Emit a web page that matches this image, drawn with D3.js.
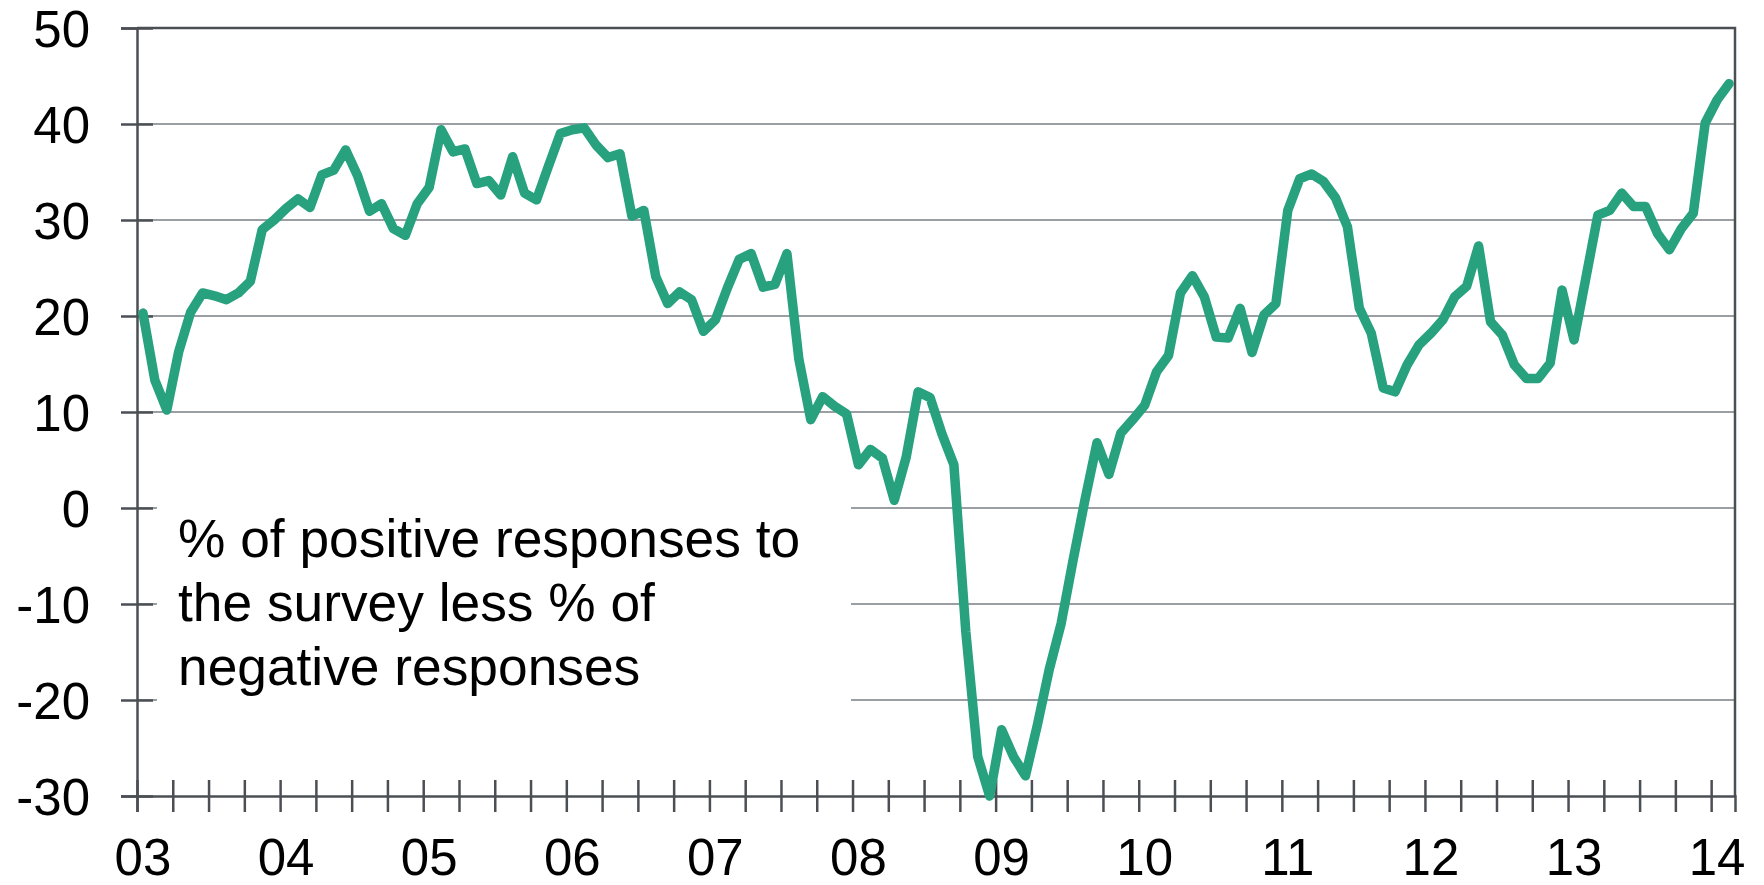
<!DOCTYPE html>
<html>
<head>
<meta charset="utf-8">
<script src="https://cdn.jsdelivr.net/npm/d3@7"></script>
<style>
  html, body { margin: 0; padding: 0; background: #fff; }
  svg { display: block; font-family: "Liberation Sans", Arial, sans-serif; }
</style>
</head>
<body>
<div id="chart"></div>
<script>
// monthly balance, Jan 2003 .. Feb 2014
const balance = [
  20.3, 13.3, 10.2, 16.3, 20.4, 22.4, 22.1, 21.7, 22.4, 23.6, 29.0, 30.0,
  31.2, 32.2, 31.3, 34.7, 35.2, 37.3, 34.6, 30.9, 31.7, 29.1, 28.4, 31.7,
  33.4, 39.4, 37.1, 37.4, 33.8, 34.1, 32.6, 36.6, 32.8, 32.1, 35.6, 39.0,
  39.4, 39.6, 37.8, 36.5, 36.9, 30.4, 31.0, 24.1, 21.3, 22.5, 21.7, 18.4,
  19.6, 22.9, 25.9, 26.5, 23.0, 23.3, 26.5, 15.5, 9.2, 11.6, 10.6, 9.8,
  4.5, 6.1, 5.2, 0.8, 5.3, 12.1, 11.5, 7.7, 4.5, -12.9, -25.9, -30.0,
  -23.1, -25.9, -27.9, -22.6, -16.8, -12.0, -5.4, 0.9, 6.8, 3.5, 7.8, 9.2,
  10.7, 14.2, 15.9, 22.4, 24.2, 22.0, 17.8, 17.7, 20.8, 16.2, 20.1, 21.3,
  31.0, 34.3, 34.8, 34.0, 32.3, 29.3, 20.8, 18.2, 12.5, 12.1, 14.9, 17.0,
  18.2, 19.6, 22.0, 23.1, 27.3, 19.4, 18.0, 14.9, 13.5, 13.5, 15.1, 22.7,
  17.5, 24.0, 30.5, 31.0, 32.8, 31.4, 31.4, 28.6, 26.9, 29.1, 30.7, 40.1,
  42.5, 44.2
];
const yearLabels = ["03", "04", "05", "06", "07", "08", "09", "10", "11", "12", "13", "14"];
const yTicks = [-30, -20, -10, 0, 10, 20, 30, 40, 50];
const noteLines = ["% of positive responses to", "the survey less % of", "negative responses"];

const width = 1764, height = 885;
const axisColor = "#4b4f54", gridColor = "#9b9ea2", lineColor = "#27a17e";

const svg = d3.select("#chart").append("svg")
    .attr("width", width)
    .attr("height", height);

const x = d3.scaleLinear()
    .domain([-0.5, balance.length - 0.5])
    .range([137, 1735]);
const y = d3.scaleLinear()
    .domain([-30, 50])
    .range([796, 28]);

// gridlines
svg.append("g")
    .selectAll("line")
    .data(yTicks.filter(v => v > -30 && v < 50))
    .join("line")
    .attr("x1", x.range()[0]).attr("x2", x.range()[1])
    .attr("y1", d => y(d)).attr("y2", d => y(d))
    .attr("stroke", gridColor)
    .attr("stroke-width", 2);

// white box behind the note hides part of the lower gridlines
svg.append("rect")
    .attr("x", 157).attr("y", 460)
    .attr("width", 694).attr("height", 262)
    .attr("fill", "#fff");

// frame: top and right
svg.append("path")
    .attr("d", `M${x.range()[0]},${y(50)}H${x.range()[1]}V${y(-30)}`)
    .attr("fill", "none")
    .attr("stroke", axisColor)
    .attr("stroke-width", 2.5);

// y axis
const yAxis = svg.append("g")
    .attr("transform", `translate(${x.range()[0]},0)`)
    .call(d3.axisLeft(y).tickValues(yTicks).tickSize(16).tickFormat(d => String(d)));
yAxis.select(".domain").attr("stroke", axisColor).attr("stroke-width", 2.5);
yAxis.selectAll(".tick line")
    .attr("x1", 16).attr("x2", -16)
    .attr("stroke", axisColor).attr("stroke-width", 2.5);
yAxis.selectAll(".tick text")
    .attr("x", -47)
    .attr("dy", "0.36em")
    .attr("fill", "#000")
    .style("font-size", "51px")
    .style("font-family", "'Liberation Sans', Arial, sans-serif");

// x axis, quarterly ticks between months
const xAxis = svg.append("g")
    .attr("transform", `translate(0,${y(-30)})`)
    .call(d3.axisBottom(x)
        .tickValues(d3.range(-0.5, balance.length - 1, 3))
        .tickSize(16)
        .tickFormat(""));
xAxis.select(".domain").attr("stroke", axisColor).attr("stroke-width", 2.5);
xAxis.selectAll(".tick line")
    .attr("y1", -16).attr("y2", 16)
    .attr("stroke", axisColor).attr("stroke-width", 2.5);

svg.append("g")
    .selectAll("text")
    .data(yearLabels)
    .join("text")
    .attr("x", (d, i) => x(i * 12))
    .attr("y", 875)
    .attr("text-anchor", "middle")
    .attr("fill", "#000")
    .style("font-size", "51px")
    .text(d => d);

// note
svg.append("text")
    .attr("x", 178)
    .attr("y", 557)
    .attr("fill", "#000")
    .style("font-size", "53.3px")
    .selectAll("tspan")
    .data(noteLines)
    .join("tspan")
    .attr("x", 178)
    .attr("dy", (d, i) => i === 0 ? 0 : 64)
    .text(d => d);

// the series
const line = d3.line()
    .x((d, i) => x(i))
    .y(d => y(d));

svg.append("path")
    .datum(balance)
    .attr("d", line)
    .attr("fill", "none")
    .attr("stroke", lineColor)
    .attr("stroke-width", 9.5)
    .attr("stroke-linejoin", "round")
    .attr("stroke-linecap", "round");
</script>
</body>
</html>
